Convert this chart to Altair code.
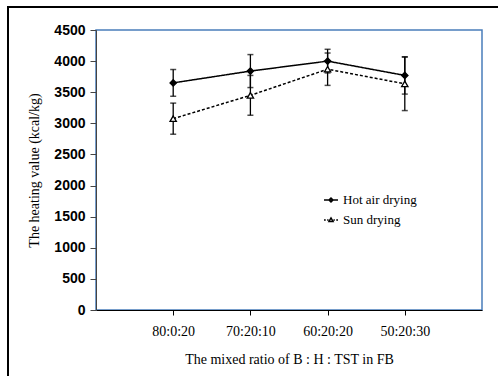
import altair as alt
import pandas as pd

ratios = ["80:0:20", "70:20:10", "60:20:20", "50:20:30"]
series = ["Hot air drying", "Sun drying"]
hot_air = [3650, 3840, 4000, 3770]
hot_air_err = [215, 265, 190, 300]
sun = [3075, 3450, 3870, 3635]
sun_err = [250, 320, 260, 430]
y_ticks = [0, 500, 1000, 1500, 2000, 2500, 3000, 3500, 4000, 4500]

rows = []
for s, vals, errs in [(series[0], hot_air, hot_air_err), (series[1], sun, sun_err)]:
    for r, v, e in zip(ratios, vals, errs):
        rows.append({"series": s, "ratio": r, "value": v, "lo": v - e, "hi": v + e})
df = pd.DataFrame(rows)

x = alt.X(
    "ratio:N",
    sort=ratios,
    scale=alt.Scale(type="point", padding=1),
    axis=alt.Axis(title="The mixed ratio of B : H : TST in FB", labelAngle=0),
)
y_scale = alt.Scale(domain=[0, 4500], nice=False)
y_axis = alt.Axis(title="The heating value (kcal/kg)", values=y_ticks, format="d")
y = alt.Y("value:Q", scale=y_scale, axis=y_axis)
y_lo = alt.Y("lo:Q", scale=y_scale, axis=y_axis)
y_hi = alt.Y("hi:Q", scale=y_scale, axis=y_axis)

base = alt.Chart(df)

frame = alt.Chart(df).mark_rect(
    fill=None, fillOpacity=0, stroke="black", strokeWidth=2
).encode(
    x=alt.value(-88), x2=alt.value(430), y=alt.value(-23), y2=alt.value(370)
)

lines = base.mark_line(color="black", strokeWidth=1.5).encode(
    x=x,
    y=y,
    detail="series:N",
    strokeDash=alt.StrokeDash(
        "series:N",
        scale=alt.Scale(domain=series, range=[[1, 0], [3, 2]]),
        legend=None,
    ),
)

err = base.mark_rule(color="black", strokeWidth=1.3).encode(x=x, y=y_lo, y2="hi:Q")
cap_lo = base.mark_tick(color="black", orient="horizontal", size=6, thickness=1.5).encode(
    x=x, y=y_lo
)
cap_hi = base.mark_tick(color="black", orient="horizontal", size=6, thickness=1.5).encode(
    x=x, y=y_hi
)

points = base.mark_point(stroke="black", strokeWidth=1.3, opacity=1, size=40).encode(
    x=x,
    y=y,
    shape=alt.Shape(
        "series:N",
        scale=alt.Scale(domain=series, range=["diamond", "triangle-up"]),
        legend=None,
    ),
    fill=alt.Fill(
        "series:N", scale=alt.Scale(domain=series, range=["black", "white"]), legend=None
    ),
)

legend_layer = base.transform_filter("false").mark_point(
    filled=False, color="black", strokeWidth=1.4, opacity=1
).encode(
    x=x,
    y=y,
    shape=alt.Shape(
        "series:N",
        scale=alt.Scale(
            domain=series,
            range=[
                "M-1,0L1,0M0,-0.3L0.3,0L0,0.3L-0.3,0Z",
                "M-1,0L-0.75,0M-0.55,0L-0.35,0M0.35,0L0.55,0M0.75,0L1,0M0,-0.3L0.3,0.22L-0.3,0.22Z",
            ],
        ),
        legend=alt.Legend(
            title=None,
            orient="none",
            legendX=227,
            legendY=162,
            labelFont="Liberation Serif",
            labelFontSize=13,
            labelColor="black",
            symbolSize=196,
            symbolStrokeWidth=1.4,
            symbolStrokeColor="black",
            rowPadding=5,
            labelOffset=4,
            padding=0,
        ),
    ),
)

chart = (
    alt.layer(frame, lines, err, cap_lo, cap_hi, points, legend_layer)
    .resolve_scale(shape="independent")
    .properties(
        width=386,
        height=280,
        autosize=alt.AutoSizeParams(type="none"),
        padding={"left": 96, "top": 30, "right": 16, "bottom": 66},
        background="white",
    )
    .configure_view(stroke="#4a7ebb", strokeWidth=1.5)
    .configure_axis(
        grid=False,
        titleFont="Liberation Serif",
        titleFontSize=14,
        titleFontWeight="normal",
        titleColor="black",
        labelColor="black",
        zindex=1,
    )
    .configure_axisY(
        labelFont="Liberation Sans",
        labelFontWeight="bold",
        labelFontSize=14,
        tickSize=6,
        labelPadding=5,
        domainColor="#444",
        tickColor="#444",
        titlePadding=12,
    )
    .configure_axisX(
        labelFont="Liberation Serif",
        labelFontSize=14,
        tickSize=5,
        labelPadding=9,
        domainColor="black",
        tickColor="black",
        titlePadding=14,
    )
)

chart.save("out.html", embed_options={"renderer": "svg", "actions": False})
